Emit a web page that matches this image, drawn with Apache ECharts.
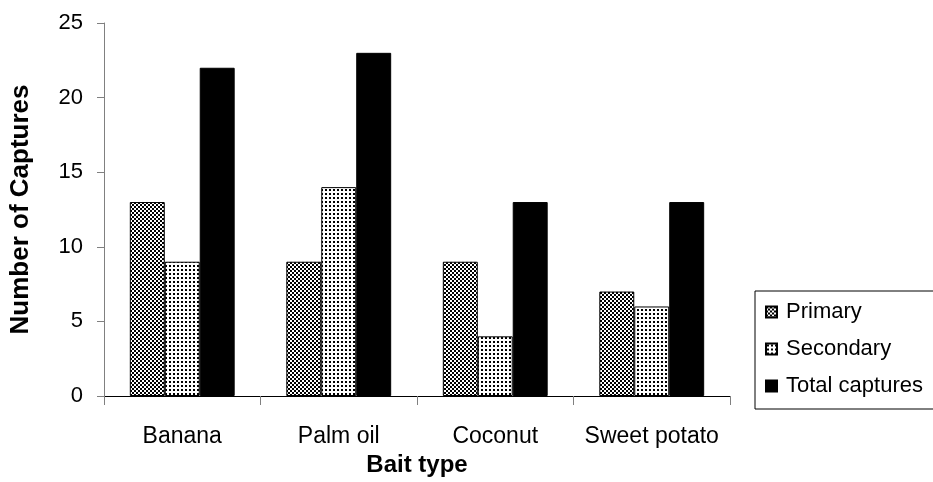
<!DOCTYPE html>
<html>
<head>
<meta charset="utf-8">
<script src="https://cdn.jsdelivr.net/npm/echarts@6/dist/echarts.min.js"></script>
<style>
  html, body { margin: 0; padding: 0; background: #fff; }
  #chart { width: 933px; height: 482px; }
</style>
</head>
<body>
<div id="chart"></div>
<script>
(function() {
  var categories = ['Banana', 'Palm oil', 'Coconut', 'Sweet potato'];
  var primary = [13, 9, 9, 7];
  var secondary = [9, 14, 4, 6];
  var total = [22, 23, 13, 13];
  var yTicks = { min: 0, max: 25, interval: 5 };

  var font = '"Liberation Sans", Arial, sans-serif';

  // --- fill patterns (checker for primary, dots for secondary) ---
  function makeTile(draw) {
    var c = document.createElement('canvas');
    c.width = 4; c.height = 4;
    var ctx = c.getContext('2d');
    ctx.fillStyle = '#fff';
    ctx.fillRect(0, 0, 4, 4);
    ctx.fillStyle = '#000';
    draw(ctx);
    return c;
  }
  var checker = makeTile(function(ctx) {
    ctx.fillRect(0, 0, 2, 2);
    ctx.fillRect(2, 2, 2, 2);
  });
  var dots = makeTile(function(ctx) {
    ctx.fillRect(1, 1, 2, 2);
  });

  var chart = echarts.init(document.getElementById('chart'), null, { renderer: 'canvas' });
  chart.setOption({
    animation: false,
    textStyle: { fontFamily: font },
    grid: { left: 104, right: 203, top: 23, bottom: 86 },
    legend: {
      orient: 'vertical',
      left: 755,
      top: 291,
      padding: [10, 40, 12, 10],
      itemGap: 15,
      itemWidth: 11,
      itemHeight: 11,
      borderColor: '#000',
      borderWidth: 1,
      icon: 'rect',
      textStyle: { color: '#000', fontSize: 22, fontFamily: font, padding: [0, 0, 0, 4] },
      data: ['Primary', 'Secondary', 'Total captures']
    },
    xAxis: {
      type: 'category',
      data: categories,
      name: 'Bait type',
      nameLocation: 'middle',
      nameGap: 54,
      nameTextStyle: { color: '#000', fontSize: 24, fontWeight: 'bold', fontFamily: font },
      axisLine: { lineStyle: { color: '#000', width: 1 } },
      axisTick: { show: true, interval: 0, length: 9, lineStyle: { color: '#808080' } },
      axisLabel: { color: '#000', fontSize: 23, margin: 29, interval: 0, fontFamily: font }
    },
    yAxis: {
      type: 'value',
      min: yTicks.min,
      max: yTicks.max,
      interval: yTicks.interval,
      name: 'Number of Captures',
      nameLocation: 'middle',
      nameGap: 70,
      nameTextStyle: { color: '#000', fontSize: 26, fontWeight: 'bold', fontFamily: font },
      axisLine: { show: true, lineStyle: { color: '#808080', width: 1 } },
      axisTick: { show: true, length: 7, lineStyle: { color: '#808080' } },
      axisLabel: { color: '#000', fontSize: 22, margin: 21, fontFamily: font },
      splitLine: { show: false }
    },
    series: [
      {
        name: 'Primary',
        type: 'bar',
        data: primary,
        barGap: '0%',
        barCategoryGap: '33%',
        itemStyle: { color: { image: checker, repeat: 'repeat' }, borderColor: '#000', borderWidth: 1 }
      },
      {
        name: 'Secondary',
        type: 'bar',
        data: secondary,
        barGap: '0%',
        barCategoryGap: '33%',
        itemStyle: { color: { image: dots, repeat: 'repeat' }, borderColor: '#000', borderWidth: 1 }
      },
      {
        name: 'Total captures',
        type: 'bar',
        data: total,
        barGap: '0%',
        barCategoryGap: '33%',
        itemStyle: { color: '#000', borderColor: '#000', borderWidth: 1 }
      }
    ]
  });
  window.addEventListener('resize', function() { chart.resize(); });
})();
</script>
</body>
</html>
